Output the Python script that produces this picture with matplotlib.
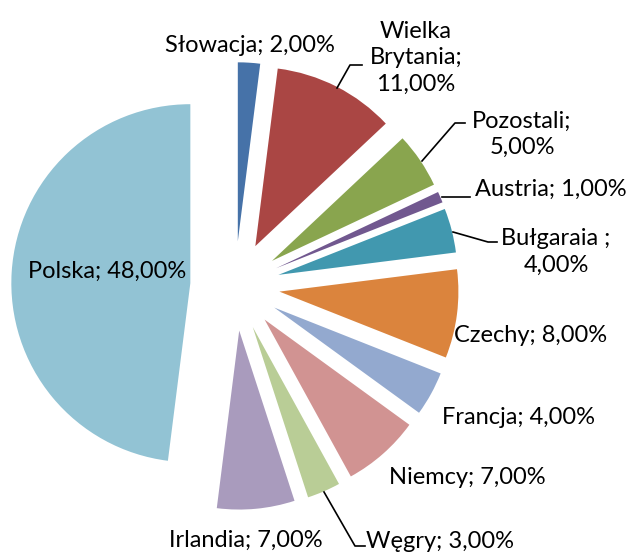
import matplotlib.pyplot as plt

kraje = ["Słowacja", "Wielka\nBrytania", "Pozostali", "Austria", "Bułgaraia ",
         "Czechy", "Francja", "Niemcy", "Węgry", "Irlandia", "Polska"]
udzialy = [2, 11, 5, 1, 4, 8, 4, 7, 3, 7, 48]
kolory = ["#4672A8", "#AA4644", "#89A54E", "#71588F", "#4198AF", "#DB843D",
          "#93A9CF", "#D19392", "#B9CD96", "#A99BBD", "#92C3D4"]

# pixel layout of the original (pie centre, radius)
CX, CY, R = 235, 286, 179
W, H = 629, 554

def px(x, y):
    return (x - CX) / R, (CY - y) / R

# label text: (centre x, centre y in pixels, separator between name and value)
etykiety = [
    (250, 45, "; "),
    (416, 58, ";\n"),
    (522, 134, ";\n"),
    (551, 189, "; "),
    (556, 252, ";\n"),
    (531, 335, "; "),
    (519, 418, "; "),
    (467, 477, "; "),
    (440, 541, "; "),
    (246, 540, "; "),
    (107, 271, "; "),
]
linie = {
    1: [(337, 88), (350, 65), (362, 65)],
    2: [(422, 161), (455, 123), (465, 123)],
    3: [(442, 197), (470, 197)],
    4: [(453, 232), (488, 242), (497, 242)],
    8: [(324, 492), (355, 546), (365, 546)],
}

plt.rcParams['font.family'] = ['Lato', 'DejaVu Sans']

fig = plt.figure(figsize=(W / 100, H / 100), dpi=100)
ax = fig.add_axes([0, 0, 1, 1])
ax.pie(udzialy, colors=kolory, explode=[0.25] * len(udzialy), startangle=90,
       counterclock=False, radius=1)

for i, (kraj, u) in enumerate(zip(kraje, udzialy)):
    x, y, sep = etykiety[i]
    tekst = f"{kraj}{sep}{u:.2f}%".replace(".", ",")
    ax.text(*px(x, y), tekst, ha="center", va="center", fontsize=17,
            linespacing=1.3, color="black")

for pts in linie.values():
    xs, ys = zip(*[px(a, b) for a, b in pts])
    ax.plot(xs, ys, color="black", lw=1.2)

x0, y0 = px(0, H)
x1, y1 = px(W, 0)
ax.set_xlim(x0, x1)
ax.set_ylim(y0, y1)
ax.set_aspect("auto")
ax.axis("off")

fig.savefig("out.png", dpi=100)
